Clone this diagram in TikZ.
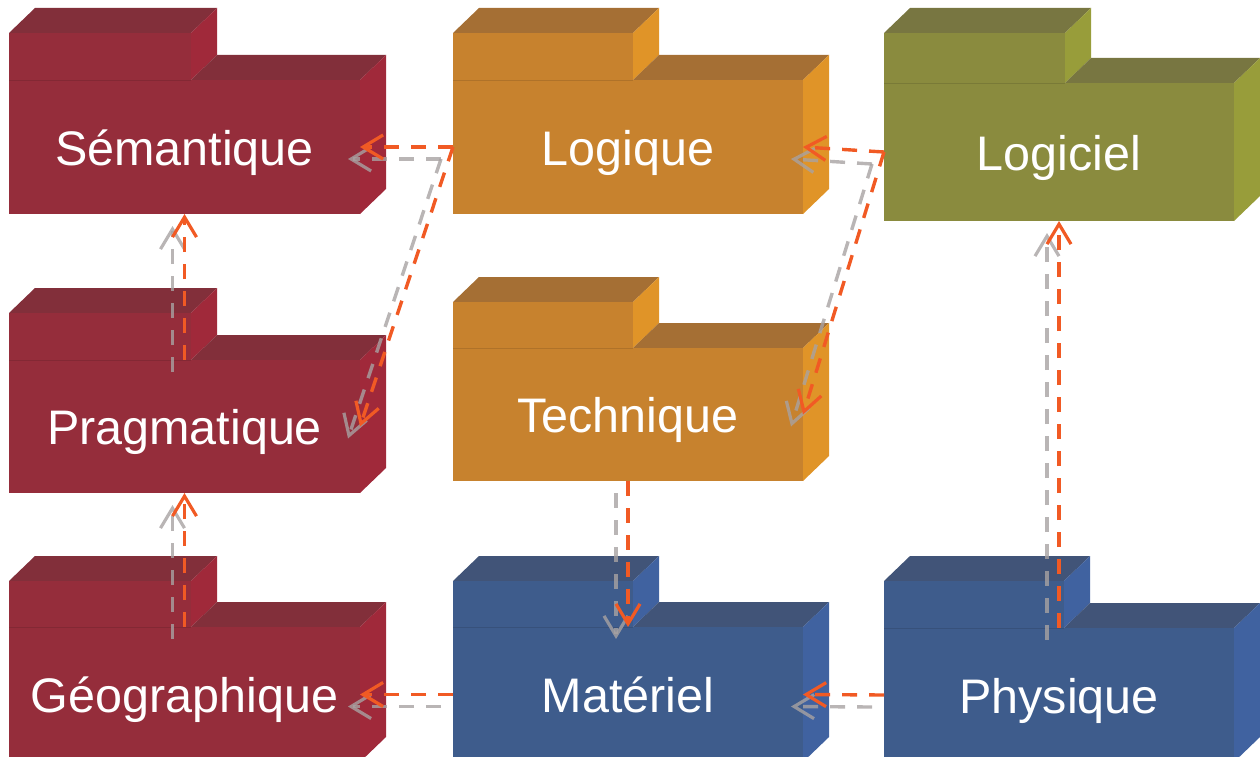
\documentclass[tikz,border=0pt]{standalone}
\usepackage{fontspec}
\setmainfont{Liberation Sans}
\usetikzlibrary{arrows.meta}
\definecolor{redF}{HTML}{952D3B}
\definecolor{redT}{HTML}{822F3A}
\definecolor{redS}{HTML}{A0293A}
\definecolor{orgF}{HTML}{C7822E}
\definecolor{orgT}{HTML}{A56F34}
\definecolor{orgS}{HTML}{E09428}
\definecolor{olvF}{HTML}{8A8B3E}
\definecolor{olvT}{HTML}{787641}
\definecolor{olvS}{HTML}{989D3A}
\definecolor{bluF}{HTML}{3E5C8C}
\definecolor{bluT}{HTML}{415478}
\definecolor{bluS}{HTML}{4062A0}
\definecolor{depOrange}{HTML}{F15A24}
\definecolor{depGray}{HTML}{A8A2A2}
\tikzset{
  pkgbody/.style={inner sep=0pt, outer sep=0pt},
  pkglabel/.style={text=white, font=\fontsize{48.5}{58}\selectfont, inner sep=0pt, outer sep=0pt, anchor=base},
  depbase/.style={line width=3.4pt, dash pattern=on 15pt off 12pt,
    -{Straight Barb[length=20pt,width=24pt,line width=3.2pt]}},
  deporange/.style={depbase, draw=depOrange},
  depgray/.style={depbase, draw=depGray, draw opacity=0.8}
}
\newcommand\pkg[9]{%
  \fill[#7T] (#1,#2) -- (#1+26,#2-25) -- (#3+26,#2-25) -- (#3,#2) -- cycle;
  \fill[#7S] (#3,#2) -- (#3+26,#2-25) -- (#3+26,#5-25) -- (#3,#5) -- cycle;
  \fill[#7F] (#1,#2) rectangle (#3,#5);
  \fill[#7T] (#3,#5) -- (#3+26,#5-25) -- (#4+26,#5-25) -- (#4,#5) -- cycle;
  \fill[#7S] (#4,#5) -- (#4+26,#5-25) -- (#4+26,#6-25) -- (#4,#6) -- cycle;
  \fill[#7F] (#1,#5) rectangle (#4,#6);
  \draw[#7F!88!black, line width=0.8pt] (#1,#5) -- (#3,#5);
  \node[pkgbody, minimum width={#4pt-#1pt}, minimum height={#6pt-#5pt}] (#8) at ({(#1+#4)/2},{(#5+#6)/2}) {};
  \node[pkglabel] (#8-label) at ({(#1+#4)/2},{(#5+#6)/2+18}) {#9};
}
\newcommand\conn[2]{%
  \draw[depgray] ([shift={(-12,12)}]#1) -- ([shift={(-12,12)}]#2);
  \draw[deporange] (#1) -- (#2);
}
\begin{document}
\begin{tikzpicture}[x=1pt,y=-1pt]
\useasboundingbox (0,0) rectangle (1260,757);
\clip (0,0) rectangle (1260,757);
\pkg{9}{33}{191}{360}{80}{214}{red}{Sem}{Sémantique}
\pkg{9}{313}{191}{360}{360}{493}{red}{Prag}{Pragmatique}
\pkg{9}{581}{191}{360}{627}{762}{red}{Geo}{Géographique}
\pkg{453}{33}{633}{803}{80}{214}{org}{Logq}{Logique}
\pkg{453}{302}{633}{803}{348}{481}{org}{Tech}{Technique}
\pkg{453}{581}{633}{803}{627}{762}{blu}{Mat}{Matériel}
\pkg{884}{33}{1065}{1234}{83}{221}{olv}{Logc}{Logiciel}
\pkg{884}{581}{1064}{1234}{628}{762}{blu}{Phys}{Physique}
\conn{Logq.west}{Sem.east}
\conn{Logq.west}{Prag.east}
\conn{Logc.west}{Logq.east}
\conn{Logc.west}{Tech.east}
\conn{Prag.north}{Sem.south}
\conn{Geo.north}{Prag.south}
\conn{Tech.south}{Mat.north}
\conn{Phys.north}{Logc.south}
\conn{Mat.west}{Geo.east}
\conn{Phys.west}{Mat.east}
\end{tikzpicture}
\end{document}
